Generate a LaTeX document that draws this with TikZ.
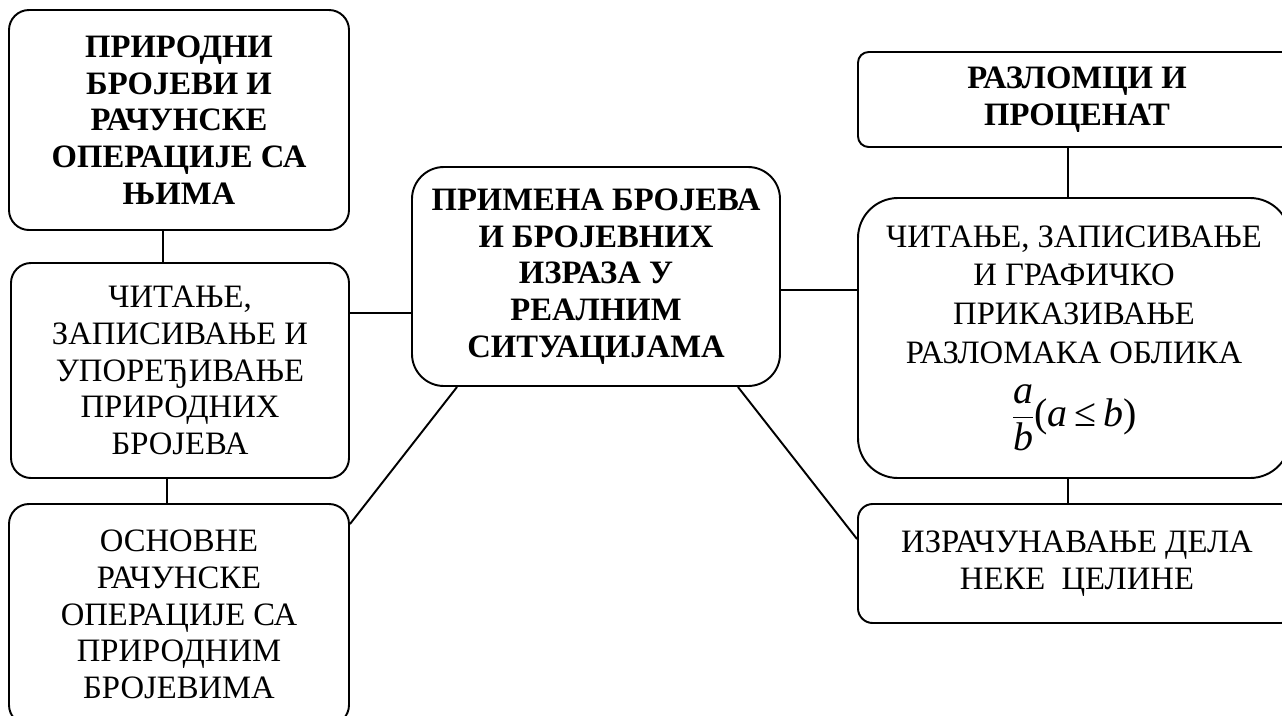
\documentclass[tikz,border=0pt]{standalone}
\usepackage{amsmath}
\usepackage{fontspec}
\setmainfont{Liberation Serif}

\begin{document}
\begin{tikzpicture}[x=0.75pt,y=-0.75pt,line width=1.45pt,
    box/.style={draw,align=center,inner sep=0pt,font=\fontsize{24.5}{27.5}\selectfont},
    title/.style={box,font=\fontsize{24.5}{27.5}\selectfont\bfseries}]

  \clip (0,0) rectangle (1282,715);

  \node[title,minimum width=255pt,minimum height=165pt,rounded corners=15pt]
    (nat) at (179,120) {ПРИРОДНИ\\ БРОЈЕВИ И\\ РАЧУНСКЕ\\ ОПЕРАЦИЈЕ СА\\ ЊИМА};
  \node[box,minimum width=253.5pt,minimum height=161.25pt,rounded corners=15pt]
    (natread) at (180,370.5) {ЧИТАЊЕ,\\ ЗАПИСИВАЊЕ И\\ УПОРЕЂИВАЊЕ\\ ПРИРОДНИХ\\ БРОЈЕВА};
  \node[box,minimum width=255pt,minimum height=165.75pt,rounded corners=15pt]
    (natops) at (179,614.5) {ОСНОВНЕ\\ РАЧУНСКЕ\\ ОПЕРАЦИЈЕ СА\\ ПРИРОДНИМ\\ БРОЈЕВИМА};
  \node[title,minimum width=276pt,minimum height=164.25pt,rounded corners=24pt]
    (main) at (596,276.5) {ПРИМЕНА БРОЈЕВА\\ И БРОЈЕВНИХ\\ ИЗРАЗА У\\ РЕАЛНИМ\\ СИТУАЦИЈАМА};
  \node[title,minimum width=328.5pt,minimum height=71.25pt,rounded corners=8pt]
    (frac) at (1077,99.5) {РАЗЛОМЦИ И\\ ПРОЦЕНАТ};
  \node[box,minimum width=324pt,minimum height=210pt,rounded corners=30pt,
    font=\fontsize{24.5}{29}\selectfont]
    (fracread) at (1074,338) {ЧИТАЊЕ, ЗАПИСИВАЊЕ\\ И ГРАФИЧКО\\ ПРИКАЗИВАЊЕ\\ РАЗЛОМАКА ОБЛИКА\\[15pt]
      {\fontsize{30}{34}\selectfont$\dfrac{\textit{a}}{\textit{b}}$(\textit{a}\,≤\,\textit{b})}};
  \node[box,minimum width=328.5pt,minimum height=89.25pt,rounded corners=11pt]
    (part) at (1077,563.5) {ИЗРАЧУНАВАЊЕ ДЕЛА\\ НЕКЕ~~ЦЕЛИНЕ};

  \draw ([xshift=-12pt]nat.south) -- ([xshift=-12pt]nat.south |- natread.north);
  \draw ([xshift=-9.75pt]natread.south) -- ([xshift=-9.75pt]natread.south |- natops.north);
  \draw ([yshift=-27.4pt]main.west) -- ([yshift=-27.4pt]main.west -| natread.east);
  \draw ([xshift=34.5pt]main.south west) -- ([yshift=-15.75pt]natops.north east);
  \draw ([yshift=-10pt]main.east) -- ([yshift=-10pt]main.east -| fracread.west);
  \draw ([xshift=-32.25pt]main.south east) -- ([yshift=-27pt]part.north west);
  \draw ([xshift=-6.75pt]frac.south) -- ([xshift=-6.75pt]frac.south |- fracread.north);
  \draw ([xshift=-4.5pt]fracread.south) -- ([xshift=-4.5pt]fracread.south |- part.north);
\end{tikzpicture}
\end{document}
